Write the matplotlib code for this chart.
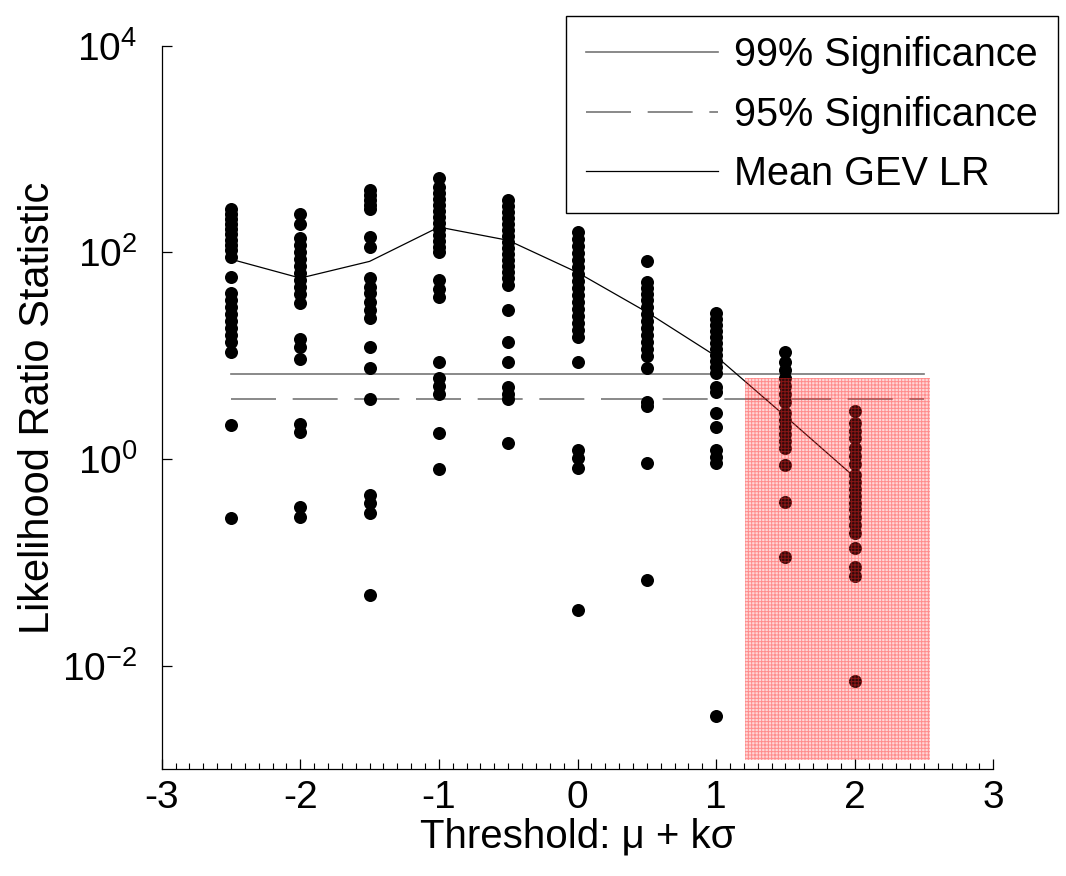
import matplotlib
matplotlib.use("Agg")
import matplotlib.pyplot as plt
from matplotlib.patches import Rectangle
from matplotlib.ticker import MultipleLocator, NullLocator

plt.rcParams['font.family'] = ['Liberation Sans', 'DejaVu Sans']
plt.rcParams['mathtext.default'] = 'regular'
plt.rcParams['axes.unicode_minus'] = False
plt.rcParams['hatch.linewidth'] = 0.7

# likelihood ratio statistics for each threshold (mu + k*sigma)
lr_m25 = [262, 235, 210, 188, 168, 151, 132, 118, 105, 90, 57.7, 40.4, 34.6,
          29.6, 25.3, 21.7, 18.5, 15.9, 13.6, 10.9, 2.15, 0.27]
lr_m20 = [233, 188, 137, 118, 101, 86, 74, 63, 54, 46, 39.5, 32.4, 14.7, 12.2,
          9.4, 2.2, 1.85, 0.347, 0.277]
lr_m15 = [400, 357, 320, 291, 266, 142, 113, 56, 46.5, 40.1, 33.3, 27.7, 23.0,
          12.2, 7.55, 3.84, 0.45, 0.374, 0.299, 0.0486]
lr_m10 = [520, 429, 375, 328, 287, 251, 220, 192, 168, 147, 129, 113, 101, 54,
          44.8, 37.2, 8.75, 6.05, 5.07, 4.25, 1.78, 0.80]
lr_m05 = [321, 281, 246, 215, 188, 165, 144, 126, 110, 96.6, 84.5, 74, 64.7,
          56.6, 48.4, 27.7, 13.6, 8.75, 5.0, 4.3, 3.85, 1.42]
lr_p00 = [157, 134, 115, 98.4, 84.3, 72.1, 61.7, 52.8, 45.2, 38.7, 33.1, 28.3,
          24.2, 20.7, 17.7, 15.2, 8.75, 1.22, 1.02, 0.815, 0.0348]
lr_p05 = [82.4, 51.6, 45.2, 39.5, 34.6, 29.6, 25.3, 21.7, 18.5, 15.9, 13.6,
          11.6, 9.93, 7.55, 3.59, 3.26, 0.91, 0.0678]
lr_p10 = [25.9, 22.6, 19.8, 17.3, 15.2, 13.3, 11.6, 10.2, 8.89, 7.78, 6.81,
          5.01, 4.49, 2.77, 2.06, 1.22, 1.05, 0.91, 0.0033]
lr_p15 = [10.9, 8.75, 7.27, 6.09, 5.09, 4.26, 3.56, 2.79, 2.39, 2.04, 1.75,
          1.50, 1.28, 0.88, 0.382, 0.112]
lr_p20 = [2.94, 2.23, 1.87, 1.60, 1.28, 1.07, 0.90, 0.703, 0.601, 0.514, 0.440,
          0.376, 0.330, 0.275, 0.231, 0.193, 0.137, 0.0903, 0.074, 0.00714]

k_values = [-2.5, -2.0, -1.5, -1.0, -0.5, 0.0, 0.5, 1.0, 1.5, 2.0]
lr_columns = [lr_m25, lr_m20, lr_m15, lr_m10, lr_m05,
              lr_p00, lr_p05, lr_p10, lr_p15, lr_p20]
mean_lr = [86, 56.5, 82, 176, 131, 64, 26.5, 9.9, 2.6, 0.67]

sig_x = [-2.5, 2.5]
sig99 = 6.63
sig95 = 3.84

# rejected thresholds
bad_k = (1.21, 2.545)
bad_lr = (0.00122, 6.17)

fig = plt.figure(figsize=(10.66, 8.76), dpi=100)
ax = fig.add_axes([0.1517, 0.1218, 0.7801, 0.826])
ax.set_yscale('log')
ax.set_xlim(-3, 3)
ax.set_ylim(1e-3, 1e4)

ax.plot(sig_x, [sig99, sig99], color='#767676', lw=1.2, zorder=2,
        label='99% Significance')
ax.plot(sig_x, [sig95, sig95], color='#767676', lw=1.2, dashes=(27, 10),
        zorder=2, label='95% Significance')
ax.plot(k_values, mean_lr, color='black', lw=0.9, zorder=2,
        label='Mean GEV LR')

for k, col in zip(k_values, lr_columns):
    ax.scatter([k] * len(col), col, s=88, color='black', linewidths=0,
               zorder=3)

ax.add_patch(Rectangle((bad_k[0], bad_lr[0]), bad_k[1] - bad_k[0],
                       bad_lr[1] - bad_lr[0], facecolor=(1, 0.2, 0.2, 0.2),
                       edgecolor=(1, 0.15, 0.15, 0.42), hatch='+++++',
                       lw=0, zorder=4))

for side in ['top', 'right']:
    ax.spines[side].set_visible(False)
for side in ['left', 'bottom']:
    ax.spines[side].set_linewidth(0.9)

ax.set_xticks([-3, -2, -1, 0, 1, 2, 3])
ax.xaxis.set_minor_locator(MultipleLocator(0.1))
ax.set_yticks([1e-2, 1e0, 1e2, 1e4])
ax.yaxis.set_minor_locator(NullLocator())
ax.tick_params(axis='both', which='major', direction='in', length=7,
               width=0.9, labelsize=28)
ax.tick_params(axis='x', which='major', pad=8)
ax.tick_params(axis='x', which='minor', direction='in', length=4.5, width=0.8)
ax.tick_params(axis='y', which='major', pad=17.5)

ax.set_xlabel('Threshold: μ + kσ', fontsize=29, labelpad=1)
ax.set_ylabel('Likelihood Ratio Statistic', fontsize=30, labelpad=3)

leg = ax.legend(loc='upper left', bbox_to_anchor=(566 / 1066, 1 - 16 / 876),
                bbox_transform=fig.transFigure, fontsize=28.5,
                handlelength=3.35, handletextpad=0.4, labelspacing=0.55,
                borderpad=0.5, borderaxespad=0, fancybox=False)
leg.get_frame().set_edgecolor('black')
leg.get_frame().set_linewidth(1.0)
leg.get_frame().set_alpha(1)

fig.savefig('out.png', dpi=100)
